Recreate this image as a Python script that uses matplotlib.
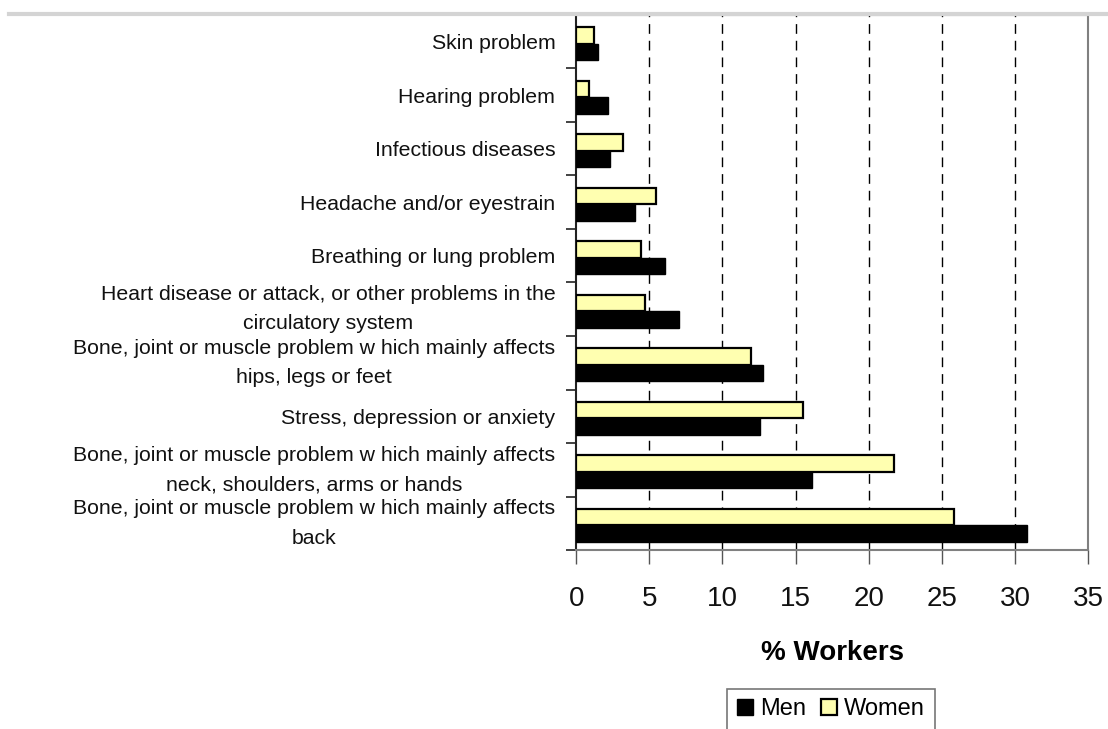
import matplotlib.pyplot as plt
import numpy as np
from matplotlib.lines import Line2D

plt.rcParams['font.family'] = ['Liberation Sans', 'DejaVu Sans']

categories = [
    "Skin problem",
    "Hearing problem",
    "Infectious diseases",
    "Headache and/or eyestrain",
    "Breathing or lung problem",
    "Heart disease or attack, or other problems in the\ncirculatory system",
    "Bone, joint or muscle problem w hich mainly affects\nhips, legs or feet",
    "Stress, depression or anxiety",
    "Bone, joint or muscle problem w hich mainly affects\nneck, shoulders, arms or hands",
    "Bone, joint or muscle problem w hich mainly affects\nback",
]
men = [1.5, 2.2, 2.3, 4.0, 6.1, 7.0, 12.8, 12.6, 16.1, 30.8]
women = [1.25, 0.9, 3.2, 5.45, 4.45, 4.7, 11.95, 15.5, 21.7, 25.8]
xticks = [0, 5, 10, 15, 20, 25, 30, 35]

fig = plt.figure(figsize=(11.08, 7.29), dpi=100)
ax = fig.add_axes([0.52, 0.2455, 0.462, 0.734])

y = np.arange(len(categories))
h = 0.31
off = 0.04
ax.barh(y - h / 2 + off, women, height=h, color='#FFFFB0', edgecolor='black',
        linewidth=1.6, zorder=3, label='Women')
ax.barh(y + h / 2 + off, men, height=h, color='black', edgecolor='black',
        linewidth=1.0, zorder=3, label='Men')

ax.set_xlim(0, 35)
ax.set_ylim(len(categories) - 0.5, -0.5)

# dashed gridlines
for t in xticks[1:-1]:
    ax.axvline(t, color='black', linewidth=1.0, linestyle=(0, (7, 5)), zorder=1)

ax.set_xticks(xticks)
ax.set_xticklabels([str(t) for t in xticks], fontsize=20, color='#111111')
ax.tick_params(axis='x', direction='out', length=10, width=1, color='#555555', pad=16)

# boundary ticks on y, labels at centres
ax.set_yticks(np.arange(len(categories) + 1) - 0.5)
ax.set_yticklabels([])
ax.tick_params(axis='y', which='major', direction='out', length=7, width=1.2, color='#222222')
ax.set_yticks(y, minor=True)
ax.set_yticklabels(categories, minor=True, fontsize=15.3, color='#111111',
                   multialignment='center', linespacing=1.7)
ax.tick_params(axis='y', which='minor', length=0, pad=15)
for lbl in ax.get_yticklabels(minor=True):
    if '\n' in lbl.get_text():
        lbl.set_va('center')

for side in ['top', 'right', 'bottom']:
    ax.spines[side].set_color('#808080')
    ax.spines[side].set_linewidth(1.5)
ax.spines['left'].set_color('#222222')
ax.spines['left'].set_linewidth(1.5)

ax.set_xlabel('% Workers', fontsize=20, fontweight='bold', labelpad=20)

handles, labels = ax.get_legend_handles_labels()
leg = fig.legend(handles[::-1], labels[::-1], loc='upper center',
                 bbox_to_anchor=(0.75, 0.055), ncol=2, fontsize=17,
                 frameon=True, fancybox=False, edgecolor='#555555',
                 handlelength=0.7, handleheight=0.7, handletextpad=0.3,
                 columnspacing=0.6, borderpad=0.4, borderaxespad=0)
leg.get_frame().set_linewidth(1.2)

# light gray line along the top
fig.add_artist(Line2D([0.008, 1.0], [0.981, 0.981], transform=fig.transFigure,
                      color='#d4d4d4', linewidth=3))

fig.savefig('out.png', dpi=100)
